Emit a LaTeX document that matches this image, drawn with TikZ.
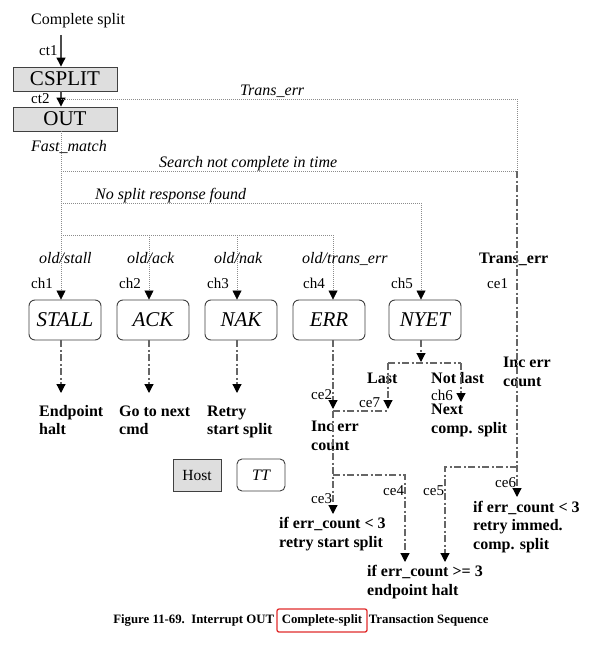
\documentclass[tikz,border=0pt]{standalone}
\usepackage{fontspec}
\setmainfont{Liberation Serif}
\usetikzlibrary{arrows.meta}
\begin{document}
\begin{tikzpicture}[x=1pt,y=-1pt,
  hostbox/.style={draw=black!75, line width=0.9pt, fill=black!13, minimum width=104pt, minimum height=24pt, inner sep=0pt, font=\fontsize{21}{24}\selectfont},
  ttbox/.style={draw=black!75, line width=0.9pt, rounded corners=6pt, minimum width=72pt, minimum height=40pt, inner sep=0pt, font=\fontsize{21}{24}\selectfont\itshape},
  lbl/.style={anchor=base west, inner sep=0pt, font=\fontsize{15}{18}\selectfont},
  ilbl/.style={anchor=base west, inner sep=0pt, font=\fontsize{16}{18}\selectfont\itshape},
  blbl/.style={anchor=base west, inner sep=0pt, align=left, font=\fontsize{16}{18.5}\selectfont\bfseries},
  tip/.style={-{Triangle[length=9pt,width=9pt,color=black]}},
  solidl/.style={draw=black!70, line width=1.2pt},
  dotl/.style={draw=black!45, line width=0.8pt, dash pattern=on 1pt off 1pt},
  dashdot/.style={draw=black!60, line width=1.2pt, dash pattern=on 7pt off 2.5pt on 2pt off 2.5pt},
]
\useasboundingbox (0,0) rectangle (597,650);
\fill[white] (0,0) rectangle (597,650);

% top
\node[anchor=base west, inner sep=0pt, font=\fontsize{16}{18}\selectfont] (start) at (31,25) {Complete split};
\coordinate (s0) at (61,35);
\node[hostbox] (csplit) at (65,79) {CSPLIT};
\node[hostbox] (out) at (65,119) {OUT};
\draw[solidl,tip] (s0) -- (csplit.north -| s0);
\draw[solidl,tip] (csplit.south -| s0) -- (out.north -| s0);
\node[lbl] (ct1) at (39,56) {ct1};
\node[lbl] (ct2) at (31,104) {ct2};

% junctions
\coordinate (jT) at (61,99);
\coordinate (jTr) at (517,99);
\coordinate (oS) at (61,131);
\coordinate (jS) at (61,171);
\coordinate (jSr) at (517,171);
\coordinate (jN) at (61,203);
\coordinate (jNr) at (421,203);
\coordinate (jO) at (61,235);
\coordinate (jO2) at (149,235);
\coordinate (jO3) at (237,235);
\coordinate (jO4) at (333,235);

% states
\node[ttbox] (stall) at (65,320) {STALL};
\node[ttbox] (ack) at (153,320) {ACK};
\node[ttbox] (nak) at (241,320) {NAK};
\node[ttbox] (err) at (329,320) {ERR};
\node[ttbox] (nyet) at (425,320) {NYET};

% dotted connectors
\draw[dotl] (jT) -- (jTr) -- (jSr);
\draw[dotl] (jS) -- (jSr);
\draw[dotl] (jN) -- (jNr);
\draw[dotl] (jO) -- (jO4);
\draw[dotl,tip] (oS) -- (stall.north -| oS);
\draw[dotl,tip] (jO2) -- (ack.north -| jO2);
\draw[dotl,tip] (jO3) -- (nak.north -| jO3);
\draw[dotl,tip] (jO4) -- (err.north -| jO4);
\draw[dotl,tip] (jNr) -- (nyet.north -| jNr);

% labels on dotted lines
\node[ilbl] (ltrans) at (240,96) {Trans\_err};
\node[ilbl] (lfast) at (31,151) {Fast\_match};
\node[ilbl] (lsearch) at (159,167) {Search not complete in time};
\node[ilbl] (lnosplit) at (95,199) {No split response found};
\node[ilbl] (lstall) at (39,263) {old/stall};
\node[ilbl] (lack) at (127,263) {old/ack};
\node[ilbl] (lnak) at (214,263) {old/nak};
\node[ilbl] (lterr) at (302,263) {old/trans\_err};
\node[blbl] (btrans) at (479,263) {Trans\_err};
\node[lbl] (ch1) at (31,288) {ch1};
\node[lbl] (ch2) at (119,288) {ch2};
\node[lbl] (ch3) at (207,288) {ch3};
\node[lbl] (ch4) at (303,288) {ch4};
\node[lbl] (ch5) at (391,288) {ch5};
\node[lbl] (ce1) at (487,288) {ce1};

% results (anchor = baseline of last line)
\node[blbl] (rhalt) at (39,434.5) {Endpoint\\halt};
\node[blbl] (rnext) at (119,434.5) {Go to next\\cmd};
\node[blbl] (rretry) at (207,434.5) {Retry\\start split};
\draw[dashdot,tip] (stall.south -| oS) -- (61,393);
\draw[dashdot,tip] (ack.south -| jO2) -- (149,393);
\draw[dashdot,tip] (nak.south -| jO3) -- (237,393);

% ERR / NYET branch
\node[blbl] (incl) at (311,450) {Inc err\\count};
\node[blbl] (incr) at (503,386) {Inc err\\count};
\node[blbl] (lastl) at (367,383) {Last};
\node[blbl] (notlast) at (431,383) {Not last};
\node[blbl] (nextc) at (431,433) {Next\\comp. split};
\node[lbl] (ce2) at (311,399) {ce2};
\node[lbl] (ce7) at (359,407) {ce7};
\node[lbl] (ch6) at (431,400) {ch6};

\coordinate (e1) at (333,409);
\coordinate (m1) at (333,411);
\coordinate (m2) at (388,411);
\coordinate (n0) at (421,362);
\coordinate (n1) at (388,363);
\coordinate (n2) at (461,363);
\coordinate (n1t) at (388,409);
\coordinate (n2t) at (461,402);
\draw[dashdot,tip] (err.south -| jO4) -- (e1);
\draw[dashdot,tip] (nyet.south -| jNr) -- (n0);
\draw[dashdot] (n1) -- (n2);
\draw[dashdot,tip] (n1) -- (n1t);
\draw[dashdot,tip] (n2) -- (n2t);
\draw[dashdot] (m1) -- (m2);

% lower outcomes
\node[blbl] (rl3) at (279,547) {if err\_count < 3\\retry start split};
\node[blbl] (rge3) at (367,595) {if err\_count >= 3\\endpoint halt};
\node[blbl] (rr3) at (473,549) {if err\_count < 3\\retry immed.\\comp. split};
\node[lbl] (ce3) at (311,503) {ce3};
\node[lbl] (ce4) at (383,495) {ce4};
\node[lbl] (ce5) at (423,495) {ce5};
\node[lbl] (ce6) at (495,487) {ce6};

\coordinate (k1) at (333,475);
\coordinate (k2) at (405,475);
\coordinate (k3) at (517,467);
\coordinate (k4) at (445,467);
\draw[dashdot,tip] (m1) -- (333,514);
\draw[dashdot,tip] (k1) -- (k2) -- (405,562);
\draw[dashdot,tip] (jSr) -- (517,497);
\draw[dashdot,tip] (k3) -- (k4) -- (445,562);

% legend
\node[draw=black!75, line width=0.9pt, fill=black!13, minimum width=48pt, minimum height=32pt, inner sep=0pt, font=\fontsize{15.5}{18}\selectfont] (lhost) at (197,475) {Host};
\node[draw=black!75, line width=0.9pt, rounded corners=5pt, minimum width=48pt, minimum height=32pt, inner sep=0pt, font=\fontsize{16}{18}\selectfont\itshape] (ltt) at (261,475) {TT};

% caption
\node[draw={rgb,255:red,225;green,45;blue,45}, line width=1.3pt, rounded corners=2pt, minimum width=90pt, minimum height=23pt, inner sep=0pt, font=\fontsize{12.8}{14}\selectfont\bfseries] (capbox) at (322,620.5) {Complete-split};
\node[anchor=base east, inner sep=0pt, font=\fontsize{12.8}{14}\selectfont\bfseries] (cap1) at ([xshift=-2pt]capbox.base west) {Figure 11-69.\ \ Interrupt OUT};
\node[anchor=base west, inner sep=0pt, font=\fontsize{12.8}{14}\selectfont\bfseries] (cap3) at ([xshift=1pt]capbox.base east) {Transaction Sequence};
\end{tikzpicture}
\end{document}
